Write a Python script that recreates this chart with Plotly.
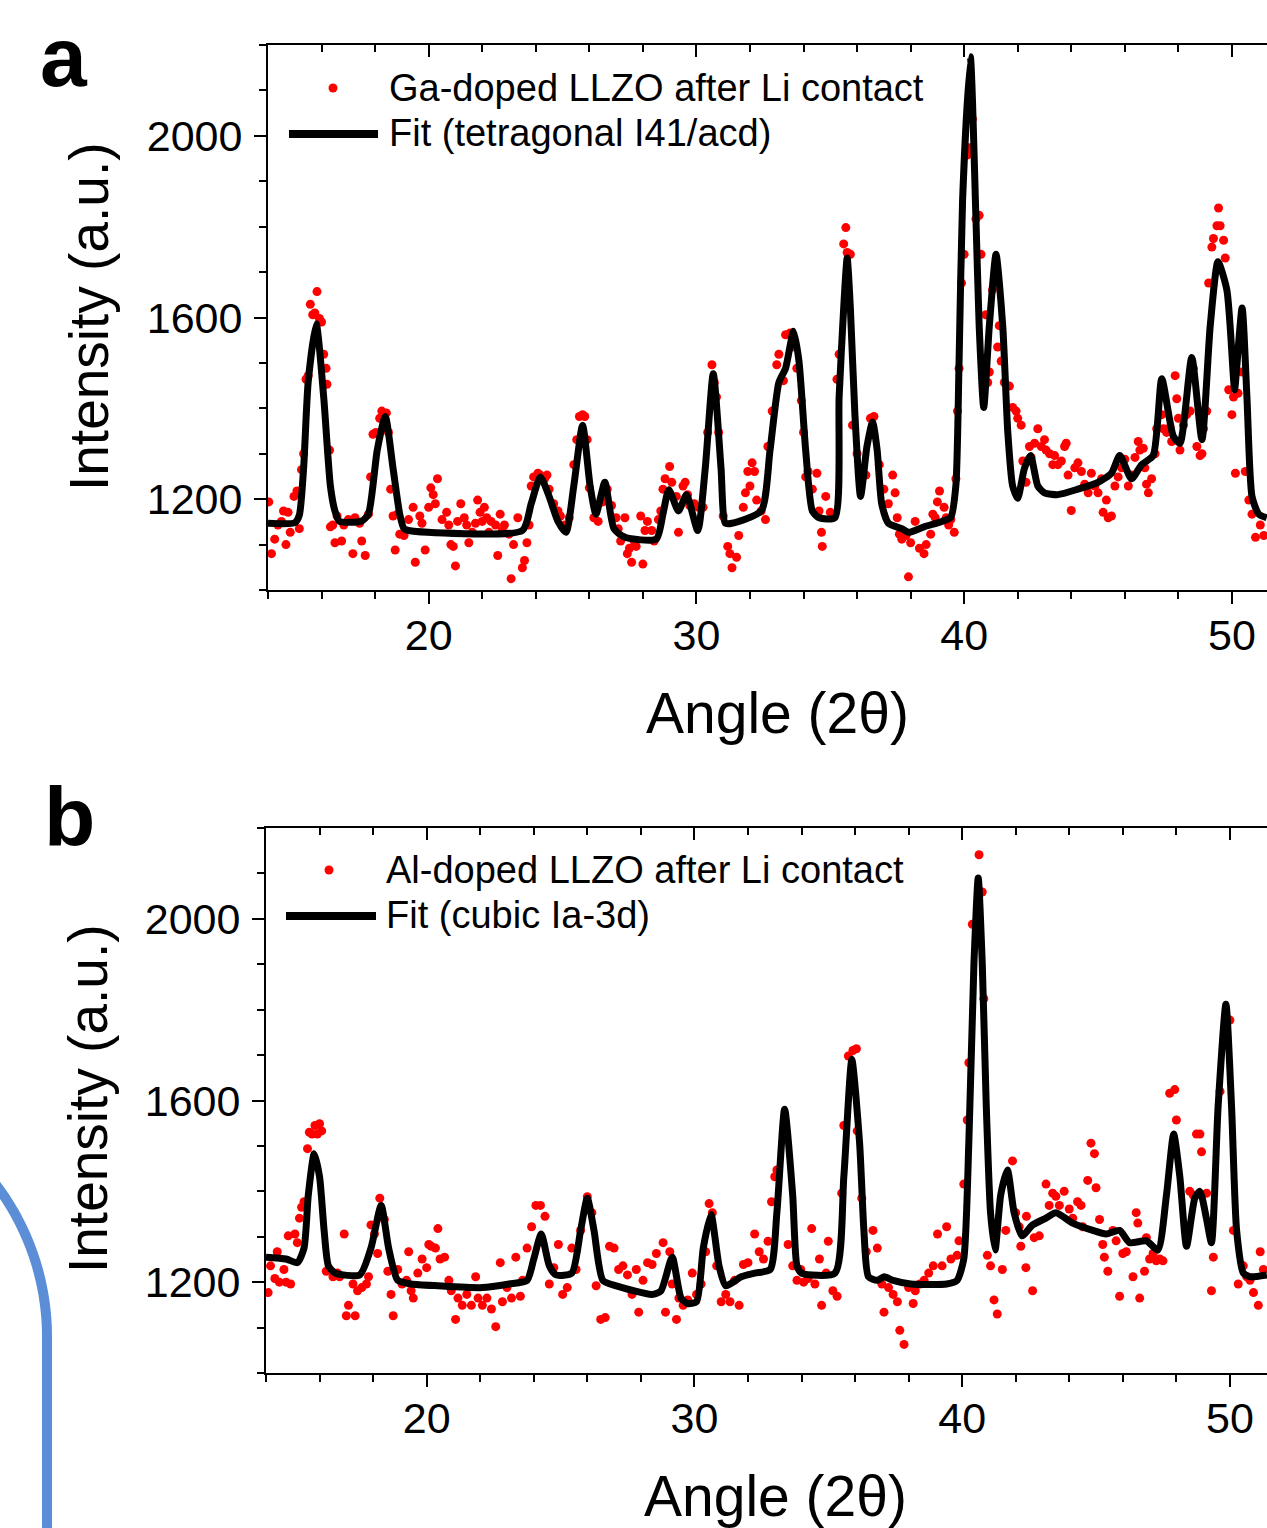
import math
import plotly.graph_objects as go

# ---------------- data (angle 2theta, intensity a.u.) ----------------
ga_points = [
    (14.03, 1194), (14.13, 1080), (14.25, 1112), (14.37, 1143), (14.50, 1151), (14.58, 1174),
    (14.67, 1100), (14.75, 1171), (14.83, 1127), (14.97, 1206), (15.08, 1218), (15.17, 1135),
    (15.25, 1265), (15.33, 1300), (15.42, 1464), (15.50, 1472), (15.58, 1629), (15.67, 1606),
    (15.75, 1610), (15.83, 1657), (15.92, 1598), (16.00, 1590), (16.08, 1519), (16.17, 1488),
    (16.20, 1453), (16.30, 1308), (16.33, 1139), (16.42, 1143), (16.50, 1104), (16.58, 1163),
    (16.75, 1108), (16.83, 1143), (17.00, 1155), (17.17, 1080), (17.25, 1159), (17.42, 1147),
    (17.50, 1108), (17.63, 1076), (17.75, 1167), (17.83, 1249), (17.92, 1343), (18.03, 1347),
    (18.17, 1378), (18.25, 1394), (18.42, 1390), (18.50, 1347), (18.58, 1222), (18.67, 1163),
    (18.75, 1088), (18.83, 1167), (18.92, 1123), (19.08, 1120), (19.25, 1155), (19.42, 1182),
    (19.50, 1061), (19.67, 1163), (19.75, 1147), (19.87, 1088), (20.00, 1182), (20.08, 1225),
    (20.17, 1210), (20.25, 1190), (20.33, 1245), (20.50, 1155), (20.67, 1171), (20.75, 1143),
    (20.83, 1100), (20.92, 1096), (21.00, 1053), (21.08, 1151), (21.20, 1190), (21.33, 1159),
    (21.42, 1143), (21.50, 1104), (21.63, 1127), (21.75, 1147), (21.83, 1198), (21.92, 1171),
    (22.00, 1151), (22.08, 1182), (22.17, 1159), (22.25, 1127), (22.33, 1151), (22.50, 1143),
    (22.58, 1076), (22.67, 1167), (22.75, 1131), (22.83, 1143), (23.00, 1123), (23.08, 1025),
    (23.17, 1100), (23.33, 1159), (23.50, 1049), (23.58, 1065), (23.67, 1104), (23.75, 1143),
    (23.83, 1229), (23.92, 1249), (24.08, 1257), (24.17, 1253), (24.33, 1245), (24.42, 1253),
    (24.50, 1222), (24.67, 1190), (24.83, 1174), (24.92, 1163), (25.08, 1143), (25.25, 1159),
    (25.42, 1276), (25.53, 1331), (25.63, 1382), (25.75, 1386), (25.83, 1382), (25.92, 1331),
    (26.00, 1225), (26.17, 1159), (26.33, 1151), (26.50, 1194), (26.58, 1229), (26.67, 1222),
    (26.83, 1186), (27.00, 1159), (27.08, 1135), (27.17, 1108), (27.25, 1116), (27.33, 1159),
    (27.42, 1080), (27.50, 1092), (27.58, 1061), (27.67, 1108), (27.75, 1096), (27.92, 1163),
    (28.00, 1057), (28.08, 1131), (28.17, 1151), (28.33, 1131), (28.42, 1108), (28.58, 1155),
    (28.67, 1174), (28.75, 1222), (28.83, 1245), (29.00, 1272), (29.08, 1237), (29.25, 1206),
    (29.33, 1127), (29.50, 1229), (29.58, 1237), (29.67, 1210), (29.75, 1186), (29.92, 1190),
    (30.08, 1182), (30.25, 1182), (30.42, 1347), (30.58, 1496), (30.67, 1457), (30.75, 1425),
    (30.83, 1347), (31.00, 1163), (31.17, 1096), (31.25, 1080), (31.33, 1049), (31.50, 1072),
    (31.58, 1120), (31.75, 1182), (31.83, 1214), (31.92, 1261), (32.00, 1229), (32.08, 1280),
    (32.17, 1261), (32.25, 1198), (32.42, 1174), (32.58, 1155), (32.67, 1316), (32.83, 1394),
    (33.00, 1496), (33.08, 1519), (33.25, 1461), (33.33, 1562), (33.50, 1566), (33.58, 1535),
    (33.75, 1488), (33.92, 1417), (34.00, 1347), (34.08, 1249), (34.17, 1261), (34.33, 1222),
    (34.50, 1257), (34.58, 1174), (34.67, 1127), (34.70, 1096), (34.83, 1206), (35.00, 1171),
    (35.25, 1464), (35.33, 1519), (35.50, 1762), (35.58, 1798), (35.63, 1743), (35.75, 1739),
    (35.83, 1363), (36.00, 1300), (36.17, 1245), (36.33, 1253), (36.50, 1378), (36.63, 1382),
    (36.83, 1276), (37.00, 1222), (37.17, 1190), (37.33, 1253), (37.42, 1214), (37.50, 1159),
    (37.58, 1123), (37.67, 1112), (37.75, 1127), (37.83, 1120), (37.92, 1029), (38.00, 1104),
    (38.17, 1151), (38.33, 1092), (38.50, 1080), (38.58, 1100), (38.75, 1123), (38.83, 1167),
    (38.92, 1159), (39.00, 1194), (39.08, 1218), (39.25, 1182), (39.33, 1159), (39.42, 1143),
    (39.50, 1155), (39.63, 1127), (39.69, 1245), (39.75, 1394), (39.81, 1488), (39.90, 1676),
    (40.00, 1739), (40.13, 1958), (40.19, 1974), (40.31, 2037), (40.44, 1817), (40.56, 1825),
    (40.63, 1739), (40.81, 1606), (40.88, 1457), (40.94, 1480), (41.06, 1661), (41.19, 1708),
    (41.25, 1535), (41.31, 1582), (41.38, 1504), (41.50, 1457), (41.69, 1449), (41.81, 1402),
    (41.94, 1394), (42.00, 1378), (42.13, 1363), (42.19, 1284), (42.31, 1237), (42.44, 1316),
    (42.50, 1292), (42.63, 1323), (42.75, 1355), (42.88, 1316), (43.00, 1331), (43.06, 1308),
    (43.19, 1300), (43.31, 1276), (43.38, 1296), (43.50, 1276), (43.63, 1284), (43.75, 1316),
    (43.81, 1323), (43.88, 1253), (44.00, 1175), (44.13, 1269), (44.25, 1280), (44.38, 1261),
    (44.50, 1233), (44.63, 1214), (44.75, 1257), (44.88, 1229), (45.00, 1214), (45.13, 1245),
    (45.19, 1171), (45.31, 1198), (45.38, 1159), (45.50, 1163), (45.63, 1229), (45.75, 1249),
    (45.88, 1269), (46.00, 1288), (46.13, 1229), (46.25, 1253), (46.38, 1292), (46.50, 1327),
    (46.56, 1308), (46.69, 1312), (46.75, 1269), (46.81, 1233), (46.88, 1214), (47.00, 1245),
    (47.13, 1300), (47.19, 1355), (47.38, 1386), (47.44, 1355), (47.56, 1347), (47.69, 1359),
    (47.75, 1327), (47.88, 1472), (47.94, 1421), (48.00, 1378), (48.06, 1308), (48.19, 1363),
    (48.31, 1386), (48.44, 1394), (48.56, 1488), (48.69, 1316), (48.81, 1296), (48.88, 1300),
    (48.94, 1355), (49.06, 1394), (49.13, 1676), (49.25, 1755), (49.31, 1774), (49.44, 1802),
    (49.50, 1841), (49.56, 1802), (49.69, 1770), (49.75, 1731), (49.88, 1441), (50.00, 1386),
    (50.06, 1425), (50.13, 1257), (50.23, 1433), (50.38, 1480), (50.50, 1261), (50.63, 1198),
    (50.75, 1167), (50.88, 1116), (51.06, 1143), (51.19, 1120),
]

ga_fit = [
    (14.00, 1147), (15.00, 1148), (15.17, 1165), (15.33, 1268), (15.50, 1457), (15.80, 1586),
    (16.08, 1425), (16.33, 1229), (16.50, 1174), (16.67, 1151), (17.50, 1152), (17.75, 1167),
    (18.08, 1308), (18.38, 1382), (18.67, 1268), (18.92, 1167), (19.08, 1135), (19.25, 1131),
    (23.50, 1131), (23.83, 1190), (24.17, 1249), (24.50, 1206), (24.83, 1151), (25.13, 1127),
    (25.42, 1229), (25.75, 1363), (26.03, 1229), (26.25, 1167), (26.58, 1237), (26.92, 1135),
    (27.33, 1116), (28.50, 1112), (28.75, 1167), (28.97, 1221), (29.33, 1174), (29.63, 1210),
    (30.05, 1131), (30.33, 1268), (30.63, 1476), (30.92, 1268), (31.08, 1147), (31.33, 1147),
    (32.42, 1174), (32.75, 1308), (33.08, 1457), (33.33, 1488), (33.63, 1570), (33.83, 1504),
    (34.08, 1308), (34.33, 1174), (34.58, 1159), (35.17, 1159), (35.33, 1425), (35.50, 1621),
    (35.63, 1731), (35.75, 1621), (35.92, 1386), (36.13, 1206), (36.37, 1316), (36.58, 1370),
    (36.75, 1308), (36.92, 1190), (37.17, 1147), (37.67, 1135), (37.92, 1127), (38.50, 1139),
    (39.17, 1151), (39.50, 1160), (39.69, 1230), (39.81, 1504), (39.94, 1857), (40.23, 2174),
    (40.44, 1817), (40.56, 1582), (40.73, 1402), (40.94, 1582), (41.19, 1739), (41.44, 1582),
    (41.63, 1347), (41.81, 1229), (42.00, 1202), (42.25, 1268), (42.48, 1296), (42.75, 1229),
    (43.00, 1214), (43.50, 1210), (44.25, 1222), (45.00, 1237), (45.50, 1257), (45.81, 1296),
    (46.25, 1245), (46.63, 1276), (47.06, 1296), (47.38, 1465), (47.81, 1339), (48.06, 1323),
    (48.50, 1512), (48.88, 1331), (49.19, 1582), (49.48, 1723), (49.81, 1661), (50.06, 1465),
    (50.10, 1441), (50.38, 1621), (50.56, 1425), (50.75, 1206), (51.00, 1167), (51.30, 1159),
]

al_points = [
    (14.08, 1177), (14.17, 1236), (14.33, 1208), (14.42, 1267), (14.50, 1200), (14.67, 1228),
    (14.75, 1200), (14.83, 1302), (14.92, 1196), (15.08, 1306), (15.17, 1287), (15.25, 1341),
    (15.33, 1365), (15.42, 1377), (15.55, 1494), (15.62, 1530), (15.72, 1526), (15.83, 1545),
    (15.92, 1526), (16.00, 1549), (16.08, 1533), (16.25, 1224), (16.50, 1212), (16.67, 1220),
    (16.75, 1212), (16.92, 1306), (17.00, 1126), (17.08, 1149), (17.25, 1196), (17.33, 1126),
    (17.42, 1181), (17.58, 1188), (17.75, 1196), (17.83, 1212), (17.92, 1326), (18.05, 1306),
    (18.17, 1263), (18.25, 1385), (18.42, 1338), (18.55, 1224), (18.67, 1173), (18.75, 1126),
    (18.92, 1228), (19.08, 1196), (19.25, 1204), (19.33, 1267), (19.42, 1181), (19.50, 1165),
    (19.67, 1220), (19.83, 1251), (20.00, 1232), (20.08, 1283), (20.17, 1279), (20.33, 1275),
    (20.42, 1318), (20.50, 1251), (20.67, 1255), (20.83, 1204), (20.92, 1181), (21.08, 1118),
    (21.17, 1165), (21.33, 1149), (21.50, 1173), (21.67, 1149), (21.83, 1212), (21.92, 1165),
    (22.08, 1149), (22.25, 1165), (22.42, 1141), (22.58, 1102), (22.75, 1243), (22.83, 1157),
    (23.00, 1188), (23.17, 1165), (23.33, 1255), (23.50, 1169), (23.58, 1204), (23.75, 1275),
    (23.92, 1322), (24.08, 1369), (24.25, 1369), (24.42, 1345), (24.58, 1196), (24.75, 1232),
    (24.92, 1283), (25.08, 1173), (25.25, 1188), (25.42, 1275), (25.58, 1228), (25.75, 1314),
    (26.00, 1388), (26.17, 1353), (26.33, 1192), (26.50, 1118), (26.67, 1122), (26.83, 1279),
    (27.00, 1275), (27.17, 1228), (27.33, 1236), (27.50, 1216), (27.67, 1173), (27.83, 1228),
    (27.92, 1134), (28.08, 1204), (28.25, 1243), (28.42, 1239), (28.58, 1263), (28.83, 1287),
    (28.92, 1134), (29.08, 1267), (29.17, 1196), (29.33, 1118), (29.42, 1165), (29.58, 1149),
    (29.75, 1161), (29.92, 1220), (30.08, 1173), (30.25, 1196), (30.42, 1267), (30.55, 1373),
    (30.67, 1353), (30.83, 1236), (31.00, 1157), (31.17, 1173), (31.33, 1157), (31.50, 1204),
    (31.67, 1149), (31.83, 1239), (32.00, 1243), (32.25, 1306), (32.42, 1267), (32.58, 1251),
    (32.75, 1290), (32.88, 1377), (33.00, 1432), (33.08, 1447), (33.33, 1533), (33.50, 1283),
    (33.67, 1236), (33.83, 1204), (33.97, 1228), (34.08, 1200), (34.25, 1208), (34.38, 1318),
    (34.50, 1196), (34.67, 1251), (34.75, 1149), (34.92, 1220), (35.00, 1290), (35.17, 1181),
    (35.33, 1169), (35.50, 1396), (35.58, 1545), (35.75, 1698), (35.92, 1710), (36.05, 1714),
    (36.08, 1533), (36.25, 1385), (36.42, 1267), (36.67, 1314), (36.83, 1275), (37.00, 1196),
    (37.08, 1134), (37.25, 1188), (37.42, 1173), (37.58, 1157), (37.67, 1094), (37.83, 1063),
    (38.00, 1188), (38.17, 1153), (38.25, 1181), (38.42, 1196), (38.58, 1204), (38.75, 1220),
    (38.92, 1236), (39.08, 1306), (39.25, 1236), (39.42, 1322), (39.58, 1251), (39.81, 1259),
    (39.88, 1291), (40.06, 1416), (40.19, 1557), (40.25, 1683), (40.38, 1988), (40.63, 2141),
    (40.75, 2059), (40.81, 1824), (40.94, 1259), (41.06, 1236), (41.19, 1161), (41.31, 1130),
    (41.50, 1228), (41.63, 1314), (41.88, 1467), (42.00, 1353), (42.13, 1322), (42.19, 1279),
    (42.38, 1232), (42.40, 1345), (42.63, 1181), (42.69, 1298), (42.88, 1302), (43.13, 1416),
    (43.25, 1369), (43.38, 1396), (43.50, 1389), (43.63, 1369), (43.81, 1400), (44.00, 1361),
    (44.13, 1341), (44.31, 1377), (44.44, 1369), (44.50, 1322), (44.69, 1424), (44.81, 1506),
    (44.94, 1483), (45.00, 1408), (45.13, 1338), (45.25, 1283), (45.31, 1255), (45.44, 1224),
    (45.63, 1314), (45.75, 1291), (45.88, 1169), (46.00, 1263), (46.13, 1267), (46.38, 1212),
    (46.50, 1353), (46.56, 1330), (46.63, 1165), (46.81, 1224), (46.88, 1298), (47.00, 1251),
    (47.13, 1263), (47.25, 1247), (47.38, 1251), (47.50, 1247), (47.75, 1616), (47.94, 1624),
    (48.00, 1557), (48.50, 1400), (48.63, 1392), (48.75, 1526), (48.88, 1526), (48.94, 1487),
    (49.13, 1396), (49.25, 1326), (49.31, 1181), (49.38, 1255), (49.63, 1620), (50.00, 1777),
    (50.13, 1314), (50.31, 1196), (50.50, 1236), (50.63, 1212), (50.75, 1204), (50.88, 1177),
    (51.06, 1149), (51.13, 1267), (51.25, 1228),
]

al_fit = [
    (14.00, 1255), (14.75, 1251), (15.17, 1243), (15.42, 1275), (15.58, 1392), (15.80, 1483),
    (16.00, 1432), (16.17, 1314), (16.33, 1236), (16.58, 1220), (17.50, 1216), (17.92, 1275),
    (18.30, 1369), (18.58, 1275), (18.92, 1204), (19.42, 1196), (20.42, 1192), (22.08, 1188),
    (23.08, 1196), (23.75, 1204), (24.00, 1251), (24.28, 1306), (24.58, 1236), (24.83, 1216),
    (25.42, 1220), (25.75, 1314), (26.00, 1385), (26.25, 1314), (26.58, 1204), (27.08, 1192),
    (28.42, 1173), (28.75, 1181), (29.17, 1255), (29.50, 1165), (29.75, 1153), (30.08, 1157),
    (30.33, 1275), (30.62, 1349), (30.92, 1236), (31.17, 1192), (31.75, 1212), (32.25, 1220),
    (32.83, 1228), (33.08, 1353), (33.37, 1581), (33.67, 1392), (33.83, 1236), (34.00, 1220),
    (35.25, 1220), (35.58, 1432), (35.88, 1690), (36.17, 1506), (36.33, 1314), (36.50, 1212),
    (36.83, 1204), (37.08, 1212), (37.42, 1204), (38.08, 1196), (39.42, 1196), (39.81, 1204),
    (40.06, 1251), (40.25, 1510), (40.44, 1902), (40.60, 2090), (40.75, 1902), (40.90, 1588),
    (41.06, 1353), (41.23, 1271), (41.44, 1392), (41.69, 1447), (41.94, 1353), (42.23, 1302),
    (42.63, 1326), (43.13, 1341), (43.50, 1353), (44.13, 1330), (44.88, 1314), (45.38, 1306),
    (45.88, 1314), (46.25, 1287), (46.88, 1291), (47.31, 1271), (47.63, 1392), (47.90, 1526),
    (48.13, 1432), (48.38, 1279), (48.69, 1385), (48.88, 1400), (49.13, 1338), (49.31, 1287),
    (49.56, 1588), (49.85, 1812), (50.06, 1588), (50.25, 1314), (50.50, 1220), (50.75, 1212),
    (51.38, 1216),
]

x_ticks = [20, 30, 40, 50]
y_ticks = [1200, 1600, 2000]
x_range = [14, 51.31]
y_range = [1000, 2200]

ga_label = "Ga-doped LLZO after Li contact"
ga_fit_label = "Fit (tetragonal I41/acd)"
al_label = "Al-doped LLZO after Li contact"
al_fit_label = "Fit (cubic Ia-3d)"
x_title = "Angle (2θ)"
y_title = "Intensity (a.u.)"

# ---------------- layout helpers (pixel -> paper) ----------------
W, H = 1267, 1528
FONT = "Liberation Sans, Arial, sans-serif"


def px(xp):
    return xp / W


def py(yp):
    return 1 - yp / H


fig = go.Figure()

for pts, fit, xa, ya in [(ga_points, ga_fit, "x", "y"), (al_points, al_fit, "x2", "y2")]:
    fig.add_trace(go.Scatter(
        x=[p[0] for p in pts], y=[p[1] for p in pts], mode="markers",
        marker=dict(color="#FF0000", size=9, line=dict(width=0)),
        xaxis=xa, yaxis=ya, showlegend=False, hoverinfo="skip"))
    fig.add_trace(go.Scatter(
        x=[p[0] for p in fit], y=[p[1] for p in fit], mode="lines",
        line=dict(color="black", width=7, shape="spline", smoothing=0.6),
        xaxis=xa, yaxis=ya, showlegend=False, hoverinfo="skip"))

# empty traces so the top (inside-tick) axes get drawn
fig.add_trace(go.Scatter(x=[], y=[], xaxis="x3", yaxis="y", showlegend=False))
fig.add_trace(go.Scatter(x=[], y=[], xaxis="x4", yaxis="y2", showlegend=False))

tickfont = dict(family=FONT, size=43, color="black")


def xaxis(domain, anchor, rng, top=False, overlay=None):
    d = dict(
        domain=domain, anchor=anchor, range=rng, tickmode="array", tickvals=x_ticks,
        ticks="inside" if top else "outside", ticklen=12, tickwidth=2, tickcolor="black",
        showline=True, linewidth=2, linecolor="black", showgrid=False, zeroline=False,
        tickfont=tickfont, ticklabelstandoff=-6, automargin=False,
        minor=dict(dtick=2, tick0=0, ticks="inside" if top else "outside", ticklen=7,
                   tickwidth=2, tickcolor="black", showgrid=False),
    )
    if top:
        d.update(side="top", overlaying=overlay, showticklabels=False)
    return d


def yaxis(domain, anchor):
    return dict(
        domain=domain, anchor=anchor, range=y_range, tickmode="array", tickvals=y_ticks,
        ticks="outside", ticklen=12, tickwidth=2, tickcolor="black",
        showline=True, linewidth=2, linecolor="black", showgrid=False, zeroline=False,
        tickfont=tickfont, ticklabelstandoff=3, automargin=False,
        minor=dict(dtick=100, tick0=0, ticks="outside", ticklen=7, tickwidth=2,
                   tickcolor="black", showgrid=False),
    )


xa_dom = [px(268), 1.0]
xb_dom = [px(266), 1.0]
ya_dom = [py(590), py(45)]
yb_dom = [py(1373), py(828)]
xb_range = [14, 14 + (W - 266) / ((W - 268) / (x_range[1] - x_range[0]))]

annotations = []
shapes = []


def ann(text, x, y, size, bold=False, xanchor="center", angle=0):
    annotations.append(dict(
        text=f"<b>{text}</b>" if bold else text, x=px(x), y=py(y), xref="paper", yref="paper",
        xanchor=xanchor, yanchor="middle", showarrow=False, textangle=angle,
        font=dict(family=FONT, size=size, color="black")))


# panel letters
ann("a", 64, 57, 84, bold=True)
ann("b", 69, 817, 84, bold=True)
# axis titles
ann(x_title, 777, 713, 57)
ann(x_title, 775, 1496, 57)
ann(y_title, 89, 317, 55, angle=-90)
ann(y_title, 88, 1099, 55, angle=-90)

# manual legends
for (dot_x, dot_y, lx0, lx1, ly, tx, t1, t2, t2y) in [
    (333, 88, 289, 378, 134, 387, ga_label, ga_fit_label, 133),
    (329, 870, 286, 376, 916, 384, al_label, al_fit_label, 915),
]:
    shapes.append(dict(type="circle", xref="paper", yref="paper",
                       x0=px(dot_x - 4.5), x1=px(dot_x + 4.5), y0=py(dot_y + 4.5), y1=py(dot_y - 4.5),
                       fillcolor="#FF0000", line=dict(width=0)))
    shapes.append(dict(type="line", xref="paper", yref="paper",
                       x0=px(lx0), x1=px(lx1), y0=py(ly), y1=py(ly),
                       line=dict(color="black", width=8)))
    ann(t1, tx, dot_y, 38, xanchor="left")
    ann(t2, tx, t2y, 38, xanchor="left")

# decorative blue arc at the lower left
cx, cy, R = -206, 1337, 253
path_pts = []
n = 40
for i in range(n + 1):
    th = math.radians(38.0 * (1 - i / n))
    path_pts.append((cx + R * math.cos(th), cy - R * math.sin(th)))
path_pts.append((47, 1545))
path = "M " + " L ".join(f"{px(a):.5f},{py(b):.5f}" for a, b in path_pts)
shapes.append(dict(type="path", path=path, xref="paper", yref="paper",
                   line=dict(color="#5B8ED6", width=10), fillcolor="rgba(0,0,0,0)"))

fig.update_layout(
    width=W, height=H,
    margin=dict(l=0, r=0, t=0, b=0, pad=0),
    paper_bgcolor="white", plot_bgcolor="white",
    font=dict(family=FONT, color="black"),
    showlegend=False,
    xaxis=xaxis(xa_dom, "y", x_range),
    yaxis=yaxis(ya_dom, "x"),
    xaxis2=xaxis(xb_dom, "y2", xb_range),
    yaxis2=yaxis(yb_dom, "x2"),
    xaxis3=xaxis(xa_dom, "y", x_range, top=True, overlay="x"),
    xaxis4=xaxis(xb_dom, "y2", xb_range, top=True, overlay="x2"),
    annotations=annotations,
    shapes=shapes,
)

# the page's default 8px body margin would shift the figure; remove it
fig.write_html(
    "out.html",
    config={"displayModeBar": False},
    post_script="document.body.style.margin='0';document.body.style.overflow='hidden';",
)
